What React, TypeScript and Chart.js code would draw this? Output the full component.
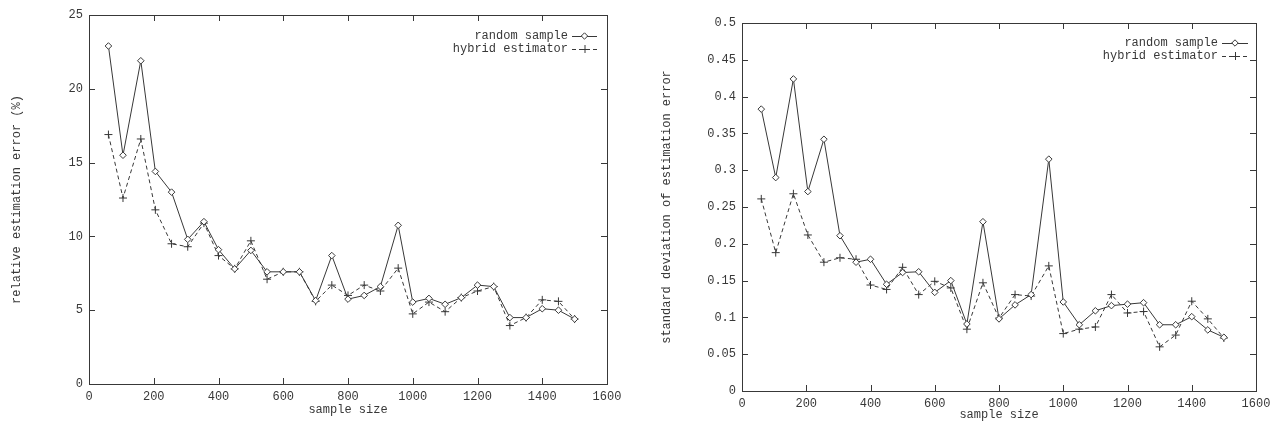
import React, { useEffect, useRef } from "react";
import { Chart, registerables } from "chart.js";

Chart.register(...registerables);

// ---- data ----
const sampleSizes = [60, 105, 160, 205, 255, 305, 355, 400, 450, 500, 550, 600, 650, 700, 750, 800, 850, 900, 955, 1000, 1050, 1100, 1150, 1200, 1250, 1300, 1350, 1400, 1450, 1500];

const relErrRandom = [22.9, 15.5, 21.9, 14.4, 13.0, 9.8, 11.0, 9.1, 7.8, 9.05, 7.6, 7.6, 7.6, 5.65, 8.7, 5.75, 6.0, 6.6, 10.75, 5.55, 5.8, 5.4, 5.85, 6.7, 6.6, 4.5, 4.5, 5.1, 5.0, 4.4];
const relErrHybrid = [16.9, 12.6, 16.6, 11.8, 9.5, 9.3, 10.9, 8.7, 7.8, 9.7, 7.1, 7.6, 7.6, 5.6, 6.7, 6.0, 6.7, 6.3, 7.85, 4.75, 5.55, 4.9, 5.85, 6.3, 6.6, 3.96, 4.5, 5.7, 5.6, 4.4];

const stdRandom = [0.383, 0.29, 0.424, 0.271, 0.342, 0.211, 0.175, 0.179, 0.145, 0.161, 0.162, 0.134, 0.15, 0.091, 0.23, 0.098, 0.117, 0.131, 0.315, 0.121, 0.09, 0.109, 0.116, 0.118, 0.12, 0.09, 0.09, 0.101, 0.083, 0.073];
const stdHybrid = [0.261, 0.188, 0.268, 0.212, 0.175, 0.181, 0.179, 0.144, 0.138, 0.168, 0.131, 0.149, 0.14, 0.084, 0.147, 0.099, 0.131, 0.129, 0.17, 0.078, 0.084, 0.087, 0.131, 0.106, 0.108, 0.06, 0.076, 0.122, 0.098, 0.072];

const seriesLabels = ["random sample", "hybrid estimator"];
const xTitle = "sample size";
const leftYTitle = "relative estimation error (%)";
const rightYTitle = "standard deviation of estimation error";

const FONT = "'Liberation Mono', 'DejaVu Sans Mono', monospace";
const INK = "#383838";

const fmt = (v: any) => String(Number(Number(v).toFixed(4)));

const framePlugin = {
  id: "gnuFrame",
  beforeDatasetsDraw(chart: any) {
    const { ctx, chartArea: a, scales } = chart;
    ctx.save();
    ctx.strokeStyle = INK;
    ctx.lineWidth = 1;
    ctx.setLineDash([]);
    ctx.strokeRect(Math.round(a.left) + 0.5, Math.round(a.top) + 0.5, Math.round(a.right - a.left), Math.round(a.bottom - a.top));
    const L = 6;
    ctx.beginPath();
    scales.x.ticks.forEach((t: any) => {
      const px = Math.round(scales.x.getPixelForValue(t.value)) + 0.5;
      ctx.moveTo(px, a.bottom);
      ctx.lineTo(px, a.bottom - L);
      ctx.moveTo(px, a.top);
      ctx.lineTo(px, a.top + L);
    });
    scales.y.ticks.forEach((t: any) => {
      const py = Math.round(scales.y.getPixelForValue(t.value)) + 0.5;
      ctx.moveTo(a.left, py);
      ctx.lineTo(a.left + L, py);
      ctx.moveTo(a.right, py);
      ctx.lineTo(a.right - L, py);
    });
    ctx.stroke();
    ctx.restore();
  },
  afterDraw(chart: any) {
    const opts = chart.options.plugins.gnuFrame || {};
    const { ctx, chartArea: a } = chart;
    const textRight = a.right - (opts.textOffset ?? 39);
    const lineL = a.right - (opts.lineL ?? 35);
    const lineR = a.right - (opts.lineR ?? 10);
    const mx = (lineL + lineR) / 2;
    const row1 = a.top + (opts.row1 ?? 21);
    const row2 = row1 + (opts.gap ?? 13);
    ctx.save();
    ctx.font = `12px ${FONT}`;
    ctx.fillStyle = INK;
    ctx.textAlign = "right";
    ctx.textBaseline = "middle";
    ctx.fillText(seriesLabels[0], textRight, row1);
    ctx.fillText(seriesLabels[1], textRight, row2);
    ctx.strokeStyle = INK;
    ctx.lineWidth = 1;
    // row 1: solid + diamond
    ctx.beginPath();
    ctx.moveTo(lineL, row1 + 0.5);
    ctx.lineTo(lineR, row1 + 0.5);
    ctx.stroke();
    ctx.beginPath();
    const r = 3.2;
    ctx.moveTo(mx, row1 - r);
    ctx.lineTo(mx + r, row1);
    ctx.lineTo(mx, row1 + r);
    ctx.lineTo(mx - r, row1);
    ctx.closePath();
    ctx.fillStyle = "#fff";
    ctx.fill();
    ctx.stroke();
    // row 2: dashed + cross
    ctx.setLineDash([4, 3]);
    ctx.beginPath();
    ctx.moveTo(lineL, row2 + 0.5);
    ctx.lineTo(lineR, row2 + 0.5);
    ctx.stroke();
    ctx.setLineDash([]);
    ctx.beginPath();
    ctx.moveTo(mx - 4, row2 + 0.5);
    ctx.lineTo(mx + 4, row2 + 0.5);
    ctx.moveTo(mx + 0.5, row2 - 4);
    ctx.lineTo(mx + 0.5, row2 + 4);
    ctx.stroke();
    ctx.restore();
  },
};

type Cfg = {
  random: number[];
  hybrid: number[];
  yMax: number;
  yStep: number;
  yTitle: string;
  padTop: number;
  padRight: number;
  yWidth: number;
  xHeight: number;
  yTitlePad: number;
  xTitlePad: number;
  legend: any;
};

function GnuChart({ cfg, left }: { cfg: Cfg; left: number }) {
  const ref = useRef<HTMLCanvasElement | null>(null);
  useEffect(() => {
    if (!ref.current) return;
    const tickFont = { family: FONT, size: 12 };
    const chart = new Chart(ref.current, {
      type: "line",
      data: {
        datasets: [
          {
            label: seriesLabels[0],
            data: sampleSizes.map((x, i) => ({ x, y: cfg.random[i] })),
            borderColor: INK,
            borderWidth: 1,
            pointStyle: "rectRot",
            pointRadius: 3.3,
            pointBackgroundColor: "#fff",
            pointBorderColor: INK,
            pointBorderWidth: 1,
            tension: 0,
          },
          {
            label: seriesLabels[1],
            data: sampleSizes.map((x, i) => ({ x, y: cfg.hybrid[i] })),
            borderColor: INK,
            borderWidth: 1,
            borderDash: [4, 3],
            pointStyle: "cross",
            pointRadius: 4,
            pointBorderColor: INK,
            pointBorderWidth: 1,
            tension: 0,
          },
        ],
      },
      options: {
        animation: false,
        responsive: false,
        layout: { padding: { top: cfg.padTop, right: cfg.padRight, left: 0, bottom: 0 } },
        plugins: {
          legend: { display: false },
          tooltip: { enabled: false },
          gnuFrame: cfg.legend,
        } as any,
        scales: {
          x: {
            type: "linear",
            min: 0,
            max: 1600,
            ticks: { stepSize: 200, color: INK, font: tickFont, padding: 6, maxRotation: 0, callback: fmt },
            grid: { display: false, drawTicks: false },
            border: { display: false },
            title: { display: true, text: xTitle, color: INK, font: tickFont, padding: { top: 0, bottom: cfg.xTitlePad } },
            afterFit: (s: any) => {
              s.height = cfg.xHeight;
              s.paddingLeft = 0;
              s.paddingRight = 0;
            },
          },
          y: {
            type: "linear",
            min: 0,
            max: cfg.yMax,
            ticks: {
              stepSize: cfg.yStep,
              color: INK,
              font: tickFont,
              padding: 6,
              callback: fmt,
            },
            grid: { display: false, drawTicks: false },
            border: { display: false },
            title: { display: true, text: cfg.yTitle, color: INK, font: tickFont, padding: { top: cfg.yTitlePad, bottom: 0 } },
            afterFit: (s: any) => {
              s.width = cfg.yWidth;
              s.paddingTop = 0;
              s.paddingBottom = 0;
            },
          },
        },
      },
      plugins: [framePlugin],
    } as any);
    return () => chart.destroy();
  }, []);
  return (
    <canvas
      ref={ref}
      width={635}
      height={424}
      style={{ position: "absolute", left, top: 0, width: 635, height: 424, display: "block" }}
    />
  );
}

const leftCfg: Cfg = {
  random: relErrRandom,
  hybrid: relErrHybrid,
  yMax: 25,
  yStep: 5,
  yTitle: leftYTitle,
  padTop: 15,
  padRight: 28,
  yWidth: 89,
  xHeight: 40,
  yTitlePad: 10,
  xTitlePad: 7,
  legend: { textOffset: 39, lineL: 35, lineR: 10, row1: 21, gap: 13 },
};

const rightCfg: Cfg = {
  random: stdRandom,
  hybrid: stdHybrid,
  yMax: 0.5,
  yStep: 0.05,
  yTitle: rightYTitle,
  padTop: 23,
  padRight: 14,
  yWidth: 107,
  xHeight: 33,
  yTitlePad: 25,
  xTitlePad: 2,
  legend: { textOffset: 38, lineL: 34, lineR: 8, row1: 20, gap: 13 },
};

export default function App() {
  return (
    <div style={{ position: "absolute", left: 0, top: 0, width: 1270, height: 424, background: "#fff", overflow: "hidden" }}>
      <GnuChart cfg={leftCfg} left={0} />
      <GnuChart cfg={rightCfg} left={635} />
    </div>
  );
}
